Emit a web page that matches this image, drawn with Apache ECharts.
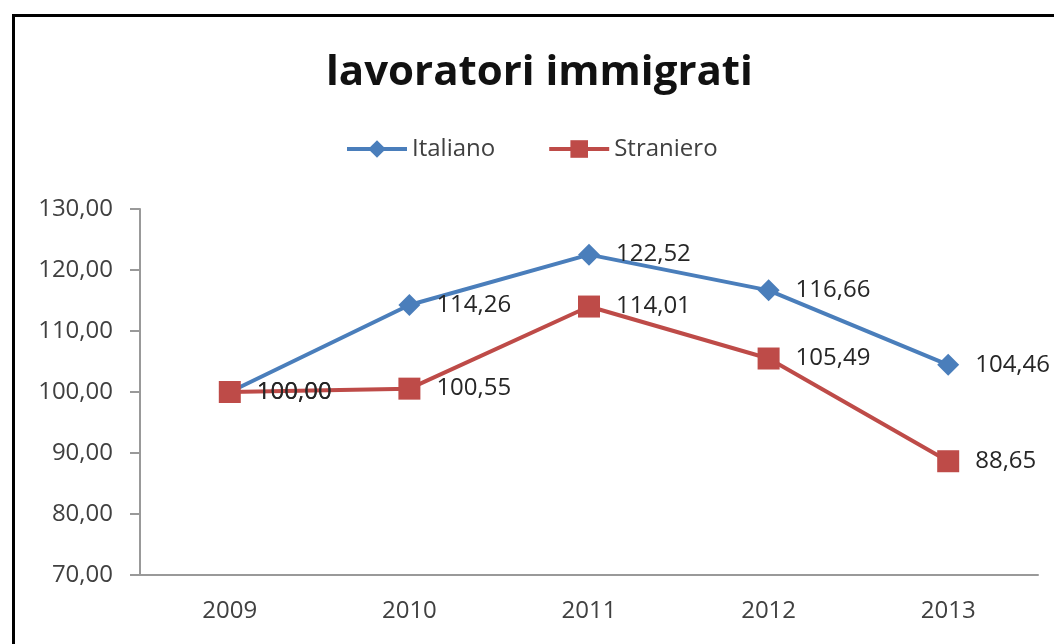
<!DOCTYPE html>
<html>
<head>
<meta charset="utf-8">
<script src="https://cdn.jsdelivr.net/npm/echarts@6/dist/echarts.min.js"></script>
<style>
  html, body { margin: 0; padding: 0; background: #fff; }
  #chart { width: 1054px; height: 644px; }
</style>
</head>
<body>
<div id="chart"></div>
<script>
var years = ['2009', '2010', '2011', '2012', '2013']
var italiano = [100.00, 114.26, 122.52, 116.66, 104.46]
var straniero = [100.00, 100.55, 114.01, 105.49, 88.65]

function fmt(v) {
  return Number(v).toFixed(2).replace('.', ',')
}

var chart = echarts.init(document.getElementById('chart'))

var option = {
  animation: false,
  backgroundColor: '#fff',
  textStyle: { fontFamily: 'Open Sans' },
  graphic: [
    {
      type: 'rect',
      left: 11,
      top: 13,
      shape: { width: 1100, height: 700 },
      style: { fill: 'none', stroke: '#000', lineWidth: 3 },
      z: 100
    }
  ],
  title: {
    text: 'lavoratori immigrati',
    left: 326,
    top: 52,
    padding: 0,
    textStyle: {
      fontFamily: 'Open Sans',
      fontWeight: 'bold',
      fontSize: 42,
      color: '#111'
    }
  },
  legend: {
    top: 137,
    left: 345,
    itemWidth: 60,
    itemHeight: 22,
    itemGap: 52,
    padding: 0,
    textStyle: { fontSize: 24, color: '#404040', fontFamily: 'Open Sans' },
    lineStyle: { width: 4 },
    data: ['Italiano', 'Straniero']
  },
  grid: {
    left: 140,
    right: 16,
    top: 209,
    bottom: 69
  },
  xAxis: {
    type: 'category',
    data: years,
    axisLine: { lineStyle: { color: '#999', width: 2 } },
    axisTick: { show: false },
    axisLabel: { fontSize: 24, color: '#404040', margin: 24 }
  },
  yAxis: {
    type: 'value',
    min: 70,
    max: 130,
    interval: 10,
    splitLine: { show: false },
    axisLine: { show: true, lineStyle: { color: '#999', width: 2 } },
    axisTick: { show: true, length: 10, lineStyle: { color: '#999', width: 2 } },
    axisLabel: {
      fontSize: 24,
      color: '#404040',
      margin: 27,
      formatter: function (v) { return fmt(v) }
    }
  },
  series: [
    {
      name: 'Italiano',
      type: 'line',
      data: italiano,
      symbol: 'diamond',
      symbolSize: 22,
      lineStyle: { color: '#4a7ebb', width: 4 },
      itemStyle: { color: '#4a7ebb' },
      label: {
        show: true,
        position: 'right',
        distance: 16,
        fontSize: 24,
        color: '#262626',
        formatter: function (p) { return fmt(p.value) }
      }
    },
    {
      name: 'Straniero',
      type: 'line',
      data: straniero,
      symbol: 'rect',
      symbolSize: 22,
      lineStyle: { color: '#be4b48', width: 4 },
      itemStyle: { color: '#be4b48' },
      label: {
        show: true,
        position: 'right',
        distance: 16,
        fontSize: 24,
        color: '#262626',
        formatter: function (p) { return fmt(p.value) }
      }
    }
  ]
}

chart.setOption(option)
</script>
</body>
</html>
